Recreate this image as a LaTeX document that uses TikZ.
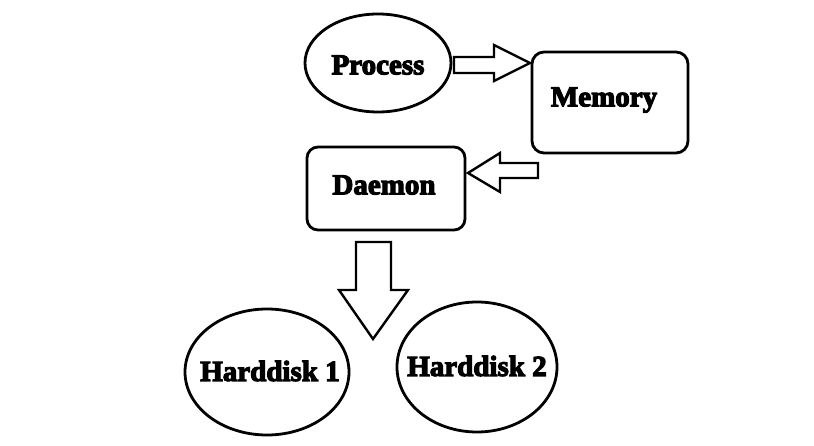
\documentclass[tikz,border=0pt]{standalone}
\usepackage{fontspec}
\setmainfont{Liberation Serif}[BoldFeatures={FakeBold=4}]
\begin{document}
\begin{tikzpicture}[x=1pt,y=-1pt,
  outl/.style={draw=black,line width=2.8pt,fill=white},
  lbl/.style={font=\fontsize{29}{29}\selectfont\bfseries,inner sep=0pt},
  blockarrow/.style={draw=black,line width=2.4pt,line join=miter,fill=white}]
\useasboundingbox (0,0) rectangle (814,446);
% nodes
\draw[outl] (378,63) ellipse [x radius=73, y radius=49];
\node[lbl] (process) at (378,65) {Process};
\draw[outl,rounded corners=12pt] (532,52) rectangle (688,153);
\node[lbl] (memory) at (604,100) {Memory};
\draw[outl,rounded corners=11pt] (307,147) rectangle (465,230);
\node[lbl] (daemon) at (384,185) {Daemon};
\draw[outl] (267,372) ellipse [x radius=82, y radius=63];
\node[lbl] (hd1) at (270,371) {Harddisk 1};
\draw[outl] (477,367) ellipse [x radius=80, y radius=65];
\node[lbl] (hd2) at (477,366) {Harddisk 2};
% block arrows
\draw[blockarrow] (454,57) -- (494,57) -- (494,45) -- (530,63) -- (494,81) -- (494,73) -- (454,73) -- cycle;
\draw[blockarrow] (538,163) -- (500,163) -- (500,153) -- (468,173) -- (500,192) -- (500,178) -- (538,178) -- cycle;
\draw[blockarrow] (356,242) -- (391,242) -- (391,290) -- (408,290) -- (373,339) -- (339,290) -- (356,290) -- cycle;
\end{tikzpicture}
\end{document}
